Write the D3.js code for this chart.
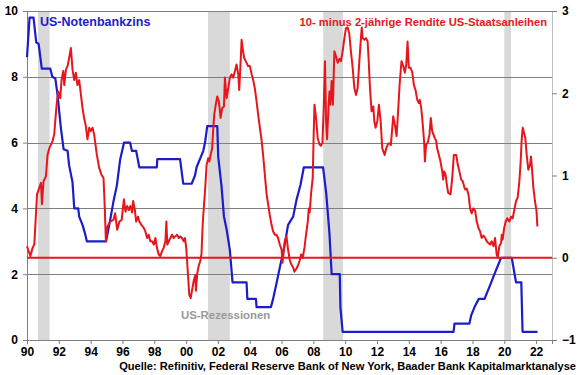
<!DOCTYPE html>
<html>
<head>
<meta charset="utf-8">
<script src="https://d3js.org/d3.v7.min.js"></script>
<style>
  body { margin: 0; background: #fff; }
  svg text { font-family: "Liberation Sans", Arial, sans-serif; font-weight: bold; }
</style>
</head>
<body>
<script>
// Fed funds rate (left axis), [decimal year, %]
const fedFunds = [
  [1990.00, 8.6], [1990.16, 9.8], [1990.41, 9.8], [1990.58, 9.05], [1990.73, 9.0],
  [1990.93, 8.25], [1991.46, 8.25], [1991.59, 8.0], [1991.78, 7.95], [1991.92, 7.45],
  [1992.13, 6.45], [1992.30, 5.8], [1992.55, 5.75], [1992.65, 5.3], [1992.86, 4.8],
  [1992.97, 4.0], [1993.22, 4.0], [1993.28, 3.75], [1993.49, 3.5], [1993.64, 3.25],
  [1993.76, 3.0], [1994.97, 3.0], [1995.23, 3.65], [1995.43, 4.2], [1995.65, 4.7],
  [1995.85, 5.47], [1996.10, 6.0], [1996.48, 6.0], [1996.59, 5.75], [1996.86, 5.75],
  [1997.06, 5.25], [1998.16, 5.25], [1998.19, 5.5], [1999.62, 5.5], [1999.82, 4.75],
  [2000.35, 4.75], [2000.56, 5.0], [2000.66, 5.25], [2000.87, 5.5], [2001.08, 5.75],
  [2001.19, 6.0], [2001.33, 6.5], [2001.96, 6.5], [2002.02, 5.57], [2002.23, 4.66],
  [2002.38, 3.75], [2002.55, 3.35], [2002.75, 2.74], [2002.92, 1.75], [2003.80, 1.75],
  [2003.85, 1.25], [2004.39, 1.25], [2004.43, 1.0], [2005.33, 1.0], [2005.47, 1.25],
  [2005.68, 1.72], [2005.89, 2.2], [2006.20, 2.9], [2006.41, 3.5], [2006.73, 3.75],
  [2006.94, 4.26], [2007.19, 4.71], [2007.40, 5.25], [2008.61, 5.25], [2008.81, 4.45],
  [2009.01, 3.25], [2009.15, 2.0], [2009.66, 2.0], [2009.70, 1.0], [2009.84, 0.25],
  [2016.81, 0.25], [2016.87, 0.5], [2017.81, 0.5], [2017.92, 0.75], [2018.13, 1.0],
  [2018.40, 1.25], [2018.76, 1.25], [2018.97, 1.5], [2019.18, 1.75], [2019.38, 2.0],
  [2019.59, 2.25], [2019.80, 2.5], [2020.47, 2.5], [2020.74, 1.75], [2021.07, 1.75],
  [2021.15, 0.25], [2022.09, 0.25]
];

// 10y minus 2y treasury spread (right axis), [decimal year, pp]
const spread = [
  [1990.00, 0.14], [1990.21, 0.02], [1990.35, 0.12], [1990.46, 0.16], [1990.63, 0.77],
  [1990.77, 0.85], [1990.88, 0.91], [1990.94, 0.65], [1991.04, 0.93], [1991.19, 0.99],
  [1991.29, 1.25], [1991.40, 1.33], [1991.61, 1.42], [1991.71, 1.50], [1991.86, 1.86],
  [1991.96, 2.02], [1992.09, 1.94], [1992.17, 2.16], [1992.28, 2.27], [1992.34, 2.10],
  [1992.45, 2.29], [1992.55, 2.33], [1992.65, 2.43], [1992.76, 2.55], [1992.86, 2.29],
  [1992.97, 2.16], [1993.07, 2.25], [1993.17, 2.10], [1993.28, 2.16], [1993.39, 1.98],
  [1993.49, 1.82], [1993.59, 1.70], [1993.70, 1.60], [1993.80, 1.44], [1993.91, 1.58],
  [1994.01, 1.54], [1994.12, 1.58], [1994.22, 1.50], [1994.39, 1.25], [1994.54, 1.09],
  [1994.68, 1.01], [1994.81, 0.97], [1994.89, 0.60], [1994.96, 0.20], [1995.06, 0.38],
  [1995.23, 0.44], [1995.43, 0.46], [1995.54, 0.54], [1995.67, 0.34], [1995.81, 0.44],
  [1995.95, 0.46], [1996.09, 0.71], [1996.19, 0.56], [1996.29, 0.63], [1996.40, 0.58],
  [1996.50, 0.63], [1996.61, 0.55], [1996.67, 0.69], [1996.78, 0.58], [1996.86, 0.44],
  [1996.98, 0.50], [1997.06, 0.44], [1997.19, 0.40], [1997.32, 0.37], [1997.44, 0.32],
  [1997.55, 0.24], [1997.65, 0.28], [1997.75, 0.20], [1997.86, 0.20], [1997.97, 0.16],
  [1998.07, 0.24], [1998.17, 0.12], [1998.28, 0.04], [1998.38, 0.02], [1998.49, 0.08],
  [1998.59, 0.12], [1998.70, 0.20], [1998.76, 0.44], [1998.82, 0.16], [1998.91, 0.20],
  [1999.01, 0.24], [1999.12, 0.28], [1999.22, 0.24], [1999.32, 0.26], [1999.43, 0.28],
  [1999.54, 0.24], [1999.64, 0.26], [1999.74, 0.24], [1999.85, 0.20], [1999.93, 0.24],
  [2000.01, 0.12], [2000.12, -0.21], [2000.20, -0.45], [2000.29, -0.49], [2000.37, -0.40],
  [2000.48, -0.28], [2000.58, -0.21], [2000.62, -0.40], [2000.70, -0.19], [2000.79, -0.10],
  [2000.89, -0.04], [2000.97, 0.05], [2001.03, 0.35], [2001.08, 0.52], [2001.19, 0.81],
  [2001.29, 1.13], [2001.39, 1.21], [2001.46, 1.17], [2001.54, 1.25], [2001.64, 1.33],
  [2001.71, 1.58], [2001.77, 1.74], [2001.88, 1.88], [2001.96, 1.96], [2002.06, 1.90],
  [2002.17, 1.70], [2002.27, 1.82], [2002.38, 1.84], [2002.44, 2.19], [2002.55, 1.94],
  [2002.65, 2.06], [2002.75, 2.19], [2002.86, 2.23], [2002.96, 2.19], [2003.07, 2.27],
  [2003.17, 2.35], [2003.28, 2.23], [2003.34, 2.04], [2003.43, 2.39], [2003.49, 2.65],
  [2003.55, 2.55], [2003.65, 2.43], [2003.80, 2.37], [2003.90, 2.33], [2004.01, 2.33],
  [2004.12, 2.23], [2004.22, 2.16], [2004.32, 2.06], [2004.43, 1.90], [2004.53, 1.74],
  [2004.64, 1.58], [2004.74, 1.44], [2004.84, 1.25], [2004.95, 1.01], [2005.06, 0.77],
  [2005.16, 0.65], [2005.26, 0.52], [2005.37, 0.40], [2005.47, 0.32], [2005.58, 0.28],
  [2005.68, 0.28], [2005.78, 0.24], [2005.89, 0.16], [2006.00, 0.10], [2006.06, -0.06],
  [2006.14, 0.08], [2006.20, 0.20], [2006.31, 0.26], [2006.41, 0.10], [2006.52, -0.03],
  [2006.61, -0.08], [2006.73, -0.12], [2006.81, -0.17], [2006.91, -0.14], [2007.02, -0.10],
  [2007.13, -0.04], [2007.23, 0.04], [2007.33, 0.00], [2007.44, 0.12], [2007.54, 0.28],
  [2007.65, 0.44], [2007.71, 0.60], [2007.77, 0.55], [2007.85, 0.77], [2007.96, 0.97],
  [2008.02, 1.50], [2008.07, 1.86], [2008.17, 1.70], [2008.27, 1.46], [2008.38, 1.38],
  [2008.48, 1.36], [2008.57, 1.40], [2008.65, 1.82], [2008.73, 2.39], [2008.80, 1.66],
  [2008.86, 1.44], [2008.95, 1.82], [2009.01, 2.02], [2009.07, 1.86], [2009.15, 2.15],
  [2009.23, 1.86], [2009.32, 2.51], [2009.42, 2.45], [2009.53, 2.37], [2009.64, 2.42],
  [2009.74, 2.39], [2009.84, 2.51], [2009.95, 2.67], [2010.05, 2.79], [2010.16, 2.80],
  [2010.26, 2.72], [2010.36, 2.51], [2010.47, 2.31], [2010.58, 2.06], [2010.68, 1.98],
  [2010.78, 2.06], [2010.89, 2.39], [2010.99, 2.67], [2011.04, 2.80], [2011.10, 2.67],
  [2011.21, 2.65], [2011.31, 2.67], [2011.41, 2.63], [2011.47, 2.43], [2011.56, 2.06],
  [2011.66, 1.78], [2011.77, 1.84], [2011.83, 1.66], [2011.91, 1.58], [2012.02, 1.66],
  [2012.12, 1.86], [2012.23, 1.66], [2012.33, 1.33], [2012.48, 1.25], [2012.58, 1.33],
  [2012.71, 1.39], [2012.81, 1.39], [2012.87, 1.37], [2012.96, 1.58], [2013.02, 1.72],
  [2013.12, 1.62], [2013.23, 1.48], [2013.34, 1.82], [2013.42, 2.10], [2013.54, 2.39],
  [2013.65, 2.33], [2013.75, 2.25], [2013.84, 2.35], [2013.92, 2.63], [2014.00, 2.31],
  [2014.11, 2.31], [2014.22, 2.25], [2014.32, 2.10], [2014.42, 2.04], [2014.53, 1.92],
  [2014.63, 1.88], [2014.69, 1.92], [2014.78, 1.82], [2014.84, 1.70], [2014.91, 1.54],
  [2014.97, 1.38], [2015.01, 1.17], [2015.09, 1.38], [2015.19, 1.40], [2015.30, 1.50],
  [2015.38, 1.70], [2015.47, 1.54], [2015.62, 1.46], [2015.72, 1.42], [2015.78, 1.33],
  [2015.89, 1.25], [2015.99, 1.17], [2016.10, 1.05], [2016.16, 0.95], [2016.22, 1.05],
  [2016.31, 1.01], [2016.39, 0.89], [2016.47, 0.79], [2016.62, 0.77], [2016.73, 0.97],
  [2016.83, 1.25], [2016.98, 1.25], [2017.08, 1.13], [2017.18, 1.05], [2017.29, 0.95],
  [2017.39, 0.93], [2017.50, 0.85], [2017.54, 0.83], [2017.64, 0.84], [2017.75, 0.77],
  [2017.85, 0.60], [2017.95, 0.54], [2018.06, 0.60], [2018.17, 0.57], [2018.27, 0.44],
  [2018.38, 0.36], [2018.48, 0.32], [2018.58, 0.24], [2018.69, 0.27], [2018.80, 0.24],
  [2018.90, 0.20], [2019.00, 0.18], [2019.11, 0.16], [2019.21, 0.20], [2019.32, 0.14],
  [2019.42, 0.24], [2019.52, 0.04], [2019.59, 0.00], [2019.69, 0.14], [2019.80, 0.18],
  [2019.84, 0.28], [2019.90, 0.22], [2019.99, 0.36], [2020.09, 0.44], [2020.19, 0.48],
  [2020.32, 0.44], [2020.43, 0.50], [2020.53, 0.48], [2020.63, 0.58], [2020.74, 0.69],
  [2020.84, 0.73], [2020.95, 0.93], [2021.03, 1.17], [2021.09, 1.42], [2021.16, 1.58],
  [2021.24, 1.52], [2021.32, 1.46], [2021.41, 1.25], [2021.51, 1.07], [2021.62, 1.13],
  [2021.68, 1.23], [2021.74, 1.09], [2021.83, 0.85], [2021.93, 0.69], [2022.03, 0.56],
  [2022.08, 0.38]
];

// US recessions as shown (start, end)
const recessions = [[1990.69, 1991.42], [2001.38, 2002.75], [2008.62, 2009.86], [2020.0, 2020.43]];

const leftTicks = [0, 2, 4, 6, 8, 10];
const rightTicks = [-1, 0, 1, 2, 3];
const yearTicks = d3.range(1990, 2023, 2);

const width = 580, height = 375;
const margin = {top: 11, right: 28, bottom: 35, left: 27};

const svg = d3.select('body').append('svg').attr('width', width).attr('height', height);

const x = d3.scaleLinear().domain([1990, 2023]).range([margin.left, width - margin.right]);
const yL = d3.scaleLinear().domain([0, 10]).range([height - margin.bottom, margin.top]);
const yR = d3.scaleLinear().domain([-1, 3]).range([height - margin.bottom, margin.top]);

const blue = '#1c1cc8';
const red = '#e8161c';

// recession bands
svg.append('g').selectAll('rect').data(recessions).join('rect')
  .attr('x', d => x(d[0]))
  .attr('width', d => x(d[1]) - x(d[0]))
  .attr('y', margin.top)
  .attr('height', yL(0) - margin.top)
  .attr('fill', '#d9d9d9');

// gridlines
svg.append('g').selectAll('line').data(leftTicks.filter(d => d > 0)).join('line')
  .attr('x1', x.range()[0]).attr('x2', x.range()[1])
  .attr('y1', d => Math.round(yL(d)) + 0.5).attr('y2', d => Math.round(yL(d)) + 0.5)
  .attr('stroke', '#7f7f7f').attr('stroke-width', 1);

// axes
const axL = svg.append('g').attr('transform', `translate(${margin.left},0)`)
  .call(d3.axisLeft(yL).tickValues(leftTicks).tickSize(4).tickPadding(5).tickFormat(d3.format('d')));
const axR = svg.append('g').attr('transform', `translate(${width - margin.right},0)`)
  .call(d3.axisRight(yR).tickValues(rightTicks).tickSize(5).tickPadding(5).tickFormat(d3.format('d')));
const axB = svg.append('g').attr('transform', `translate(0,${yL(0)})`)
  .call(d3.axisBottom(x).tickValues(yearTicks).tickSize(4).tickPadding(3)
    .tickFormat(d => String(d % 100).padStart(2, '0')));

[axL, axB].forEach(a => {
  a.select('.domain').attr('stroke', '#7f7f7f');
  a.selectAll('.tick line').attr('stroke', '#7f7f7f');
});
axR.select('.domain').attr('stroke', '#bfbfbf');
axR.selectAll('.tick line').attr('stroke', '#7f7f7f');
[axL, axR, axB].forEach(a => a.selectAll('text').attr('font-size', 12).attr('fill', '#000'));

// fed funds line
const lineL = d3.line().x(d => x(d[0])).y(d => yL(d[1]));
svg.append('path').datum(fedFunds)
  .attr('d', lineL).attr('fill', 'none').attr('stroke', blue)
  .attr('stroke-width', 2.2).attr('stroke-linejoin', 'round');

// zero line for spread
svg.append('line')
  .attr('x1', x.range()[0]).attr('x2', x.range()[1])
  .attr('y1', yR(0)).attr('y2', yR(0))
  .attr('stroke', red).attr('stroke-width', 2);

// spread line
const lineR = d3.line().x(d => x(d[0])).y(d => yR(d[1]));
svg.append('path').datum(spread)
  .attr('d', lineR).attr('fill', 'none').attr('stroke', red)
  .attr('stroke-width', 2).attr('stroke-linejoin', 'round');

// labels
svg.append('text').attr('x', 40).attr('y', 26).attr('font-size', 12.5)
  .attr('fill', blue).text('US-Notenbankzins');
svg.append('text').attr('x', 547).attr('y', 26).attr('font-size', 11.2)
  .attr('text-anchor', 'end').attr('fill', red)
  .text('10- minus 2-jährige Rendite US-Staatsanleihen');
svg.append('text').attr('x', 181).attr('y', 319).attr('font-size', 11.4)
  .attr('fill', '#999').text('US-Rezessionen');
svg.append('text').attr('x', 576).attr('y', 370).attr('font-size', 11.1)
  .attr('text-anchor', 'end').attr('fill', '#000')
  .text('Quelle: Refinitiv, Federal Reserve Bank of New York, Baader Bank Kapitalmarktanalyse');
</script>
</body>
</html>
